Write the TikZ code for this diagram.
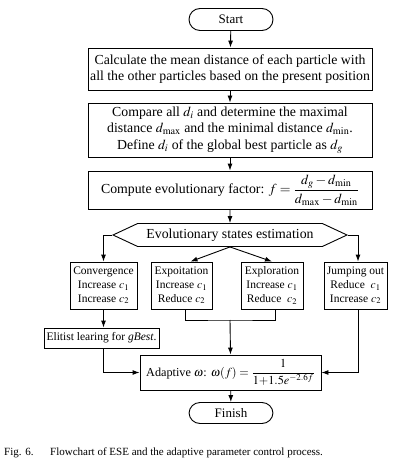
\documentclass[tikz,border=0pt]{standalone}
\usepackage{mathptmx}
\usepackage{fontspec}
\setmainfont{Liberation Serif}
\usetikzlibrary{arrows.meta,shapes.symbols,calc}
\begin{document}
\begin{tikzpicture}[x=1pt,y=-1pt,
  box/.style={draw,line width=0.9pt,align=center,inner sep=0pt,font=\fontsize{13.8}{16.5}\selectfont},
  term/.style={draw,line width=0.9pt,rounded corners=11pt,minimum width=84pt,minimum height=22pt,inner sep=0pt,font=\fontsize{13}{15.5}\selectfont},
  state/.style={box,minimum height=47pt,font=\fontsize{11.5}{13.8}\selectfont},
  conn/.style={line width=0.9pt},
  arr/.style={conn,-{Latex[length=7pt,width=5pt]}}]
\useasboundingbox (0,0) rectangle (404,465);
\node[term] (start) at (231,19.5) {Start};
\node[box,minimum width=284pt,minimum height=42pt] (b1) at (230,69)
  {Calculate the mean distance of each particle with\\all the other particles based on the present position};
\node[box,minimum width=284pt,minimum height=54pt] (b2) at (230,130)
  {Compare all $d_i$ and determine the maximal\\distance $d_{\max}$ and the minimal distance $d_{\min}$.\\Define $d_i$ of the global best particle as $d_g$};
\node[box,minimum width=284pt,minimum height=38pt] (b3) at (230,190)
  {Compute evolutionary factor: $f=\displaystyle\frac{d_g-d_{\min}}{d_{\max}-d_{\min}}$};
\node[draw,line width=0.9pt,shape=signal,signal to=west and east,signal pointer angle=50,
  minimum width=234pt,minimum height=23pt,inner sep=0pt,font=\fontsize{13.8}{16.5}\selectfont] (hex) at (230,235)
  {Evolutionary states estimation};
\node[state,minimum width=67pt] (conv) at (103.5,285.5) {Convergence\\Increase $c_1$\\Increase $c_2$};
\node[state,minimum width=61pt] (expo) at (181.5,285.5) {Expoitation\\Increase $c_1$\\Reduce $c_2$};
\node[state,minimum width=62pt] (expl) at (272,285.5) {Exploration\\Increase $c_1$\\Reduce\ \ $c_2$};
\node[state,minimum width=63pt] (jump) at (355.5,285.5) {Jumping out\\Reduce\ \ $c_1$\\Increase $c_2$};
\node[box,minimum width=115pt,minimum height=20pt,font=\fontsize{11.5}{13}\selectfont] (elit) at (101.5,338)
  {Elitist learing for \textit{gBest}.};
\node[box,minimum width=181pt,minimum height=35pt,font=\fontsize{12.2}{14}\selectfont] (adapt) at (230.5,372.5)
  {Adaptive $\omega$: $\omega(f)=\displaystyle\frac{1}{1{+}1.5e^{-2.6f}}$};
\node[term,minimum height=21pt] (finish) at (231,413) {Finish};
\node[anchor=west,inner sep=0pt,font=\fontsize{11}{13}\selectfont] (cap) at (4,453)
  {\makebox[46pt][l]{Fig. 6.}Flowchart of ESE and the adaptive parameter control process.};
\coordinate (m) at (230,320);
\draw[arr] (start) -- (b1);
\draw[arr] (b1) -- (b2);
\draw[arr] (b2) -- (b3);
\draw[arr] (b3) -- (hex);
\draw[arr] (hex.west) -| (conv.north);
\draw[arr] (hex.east) -| ([xshift=2.5pt]jump.north);
\draw[arr] (hex.south) -- ([xshift=9pt]expo.north);
\draw[arr] (hex.south) -- (expl.north);
\draw[conn] ([xshift=4pt]expo.south) |- (m) -| ([xshift=3pt]expl.south);
\draw[arr] (m) -- (adapt.north);
\draw[arr] (conv.south) -- (conv.south |- elit.north);
\draw[arr] (conv.south |- elit.south) |- (adapt.west);
\draw[arr] ([xshift=2.5pt]jump.south) |- (adapt.east);
\draw[arr] (adapt) -- (finish);
\end{tikzpicture}
\end{document}
